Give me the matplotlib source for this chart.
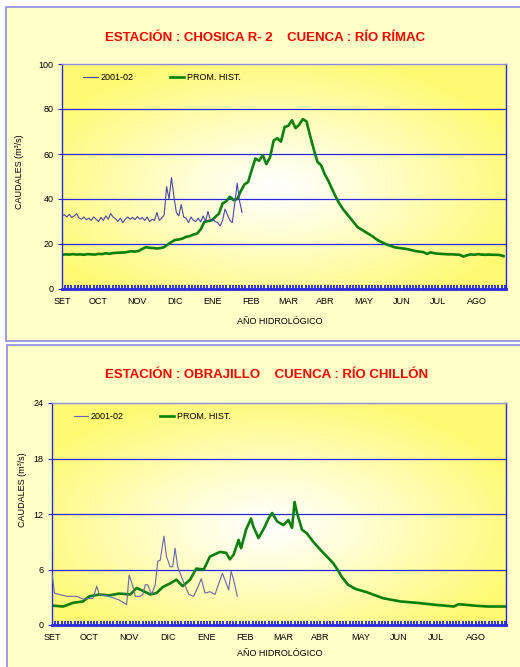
import numpy as np
import matplotlib.pyplot as plt
from matplotlib.patches import Rectangle

plt.rcParams['font.family'] = ['Liberation Sans', 'DejaVu Sans']

# Etiquetas de meses (año hidrológico, día 0 = 1 de setiembre)
meses = ['SET', 'OCT', 'NOV', 'DIC', 'ENE', 'FEB', 'MAR', 'ABR', 'MAY', 'JUN', 'JUL', 'AGO']
pos_meses = [0, 30, 62, 93, 124, 155, 186, 216, 248, 279, 309, 341]

# ---- Chosica R-2 (Río Rímac) ----
chosica_hist_dias = list(range(0, 364, 3))
chosica_hist = [15.2, 15.4, 15.3, 15.5, 15.3, 15.4, 15.2, 15.5, 15.4, 15.3,
                15.6, 15.5, 15.9, 15.6, 16.0, 16.1, 16.2, 16.2, 16.5, 16.8,
                16.6, 16.9, 17.8, 18.6, 18.3, 18.2, 18.0, 18.2, 18.6, 19.8,
                20.9, 21.8, 22.0, 22.4, 23.2, 23.5, 24.2, 24.6, 26.5, 29.8,
                30.2, 30.5, 32.0, 33.5, 38.0, 39.0, 41.0, 39.5, 40.0, 43.5,
                46.5, 47.5, 53.0, 58.0, 57.0, 59.5, 55.5, 58.5, 66.0, 67.0,
                65.5, 72.0, 72.5, 75.0, 71.5, 73.0, 75.5, 74.5, 68.0, 62.0,
                56.5, 55.0, 51.0, 48.0, 44.5, 41.0, 38.0, 35.5, 33.5, 31.5,
                29.5, 27.5, 26.5, 25.5, 24.5, 23.5, 22.3, 21.3, 20.5, 19.8,
                19.2, 18.6, 18.3, 18.1, 17.9, 17.6, 17.2, 16.8, 16.6, 16.4,
                15.6, 16.3, 15.9, 15.7, 15.6, 15.5, 15.4, 15.4, 15.3, 15.2,
                14.4, 15.0, 15.4, 15.2, 15.5, 15.3, 15.2, 15.3, 15.2, 15.2,
                15.1, 14.6]
chosica_0102_dias = list(range(0, 149, 2))
chosica_0102 = [32.5, 33.0, 32.0, 33.2, 31.8, 32.5, 33.5, 31.5, 31.0, 32.0,
                30.8, 31.5, 30.5, 32.0, 31.0, 30.0, 31.8, 30.5, 32.5, 31.0,
                33.5, 32.0, 31.2, 30.0, 31.5, 29.5, 31.0, 32.0, 31.0, 31.8,
                30.8, 32.2, 31.0, 31.8, 30.5, 32.0, 30.0, 31.0, 30.5, 34.0,
                30.5, 31.5, 33.0, 45.5, 40.0, 49.5, 41.0, 34.0, 32.5, 37.5,
                32.0, 31.5, 29.5, 32.0, 30.5, 30.0, 31.5, 29.8, 32.5, 30.0,
                34.5, 30.5, 31.0, 30.0, 29.5, 28.0, 30.5, 35.5, 33.0, 30.5,
                29.5, 38.0, 47.0, 39.0, 34.0]

# ---- Obrajillo (Río Chillón) ----
obra_hist_dias = [0, 9, 17, 25, 30, 38, 46, 54, 63, 68, 73, 79, 84, 89, 95,
                  100, 105, 111, 116, 122, 127, 135, 140, 143, 146, 150, 152,
                  156, 160, 162, 166, 169, 171, 174, 177, 181, 186, 190, 193,
                  195, 197, 201, 205, 210, 216, 221, 226, 229, 233, 238, 244,
                  253, 266, 280, 293, 307, 323, 327, 339, 350, 365]
obra_hist = [2.1, 2.0, 2.4, 2.55, 3.1, 3.3, 3.2, 3.4, 3.3, 4.0, 3.7, 3.3,
             3.45, 4.1, 4.5, 4.9, 4.2, 4.9, 6.1, 6.0, 7.4, 7.9, 7.8, 7.1,
             7.6, 9.2, 8.3, 10.3, 11.5, 10.6, 9.4, 10.1, 10.6, 11.5, 12.1,
             11.2, 10.8, 11.35, 10.5, 13.3, 12.1, 10.3, 9.9, 9.0, 8.1, 7.4,
             6.7, 6.1, 5.2, 4.35, 3.9, 3.55, 2.9, 2.55, 2.4, 2.2, 2.0, 2.25,
             2.1, 2.0, 2.0]
obra_0102_dias = [0, 2, 6, 12, 20, 25, 33, 36, 38, 46, 54, 60, 62, 65, 67, 71,
                  73, 75, 77, 80, 83, 85, 87, 90, 92, 95, 97, 99, 101, 105,
                  110, 114, 118, 120, 123, 127, 131, 137, 142, 144, 146, 149]
obra_0102 = [5.6, 3.45, 3.3, 3.1, 3.1, 2.8, 2.9, 4.2, 3.3, 3.1, 2.7, 2.2, 5.4,
             4.2, 3.1, 3.1, 3.3, 4.35, 4.35, 3.3, 4.35, 6.9, 7.0, 9.6, 7.4,
             6.3, 6.3, 8.3, 6.3, 4.9, 3.3, 3.1, 4.35, 5.0, 3.45, 3.6, 3.3,
             5.6, 3.8, 5.8, 4.9, 3.1]

W, H = 520, 667
fig = plt.figure(figsize=(W / 100, H / 100), dpi=100)
fig.patch.set_facecolor('white')

# fondos de los paneles (detrás de los ejes)
fig.patches.append(Rectangle((6 / W, 1 - 341 / H), 1, (341 - 7) / H, transform=fig.transFigure,
                             facecolor='#FFFFC8', edgecolor='#8C8CE6', linewidth=1.2, zorder=-10))
fig.patches.append(Rectangle((7 / W, -0.01), 1, 1 - 345 / H + 0.01, transform=fig.transFigure,
                             facecolor='#FFFFC8', edgecolor='#8C8CE6', linewidth=1.2, zorder=-10))

# degradado radial del área de trazado
gx, gy = np.meshgrid(np.linspace(0, 1, 300), np.linspace(0, 1, 300))
r = np.clip(np.sqrt(((gx - 0.48) / 0.58) ** 2 + ((gy - 0.45) / 0.6) ** 2), 0, 1) ** 1.1
amarillo = np.array([1.0, 0.98, 0.45])
grad = (1 - r[..., None]) * np.array([1, 1, 1]) + r[..., None] * amarillo


def panel(rect, titulo, tx, ty, xl, yl_x, yl_y, ymax, ystep, hd, hv, cd, cv, col_0102):
    ax = fig.add_axes(rect)
    ax.imshow(grad, extent=(0, 1, 0, 1), transform=ax.transAxes, origin='lower',
              aspect='auto', zorder=0)
    ax.set_xlim(0, 365)
    ax.set_ylim(0, ymax)
    ax.set_yticks(np.arange(0, ymax + 1, ystep))
    ax.set_xticks(pos_meses)
    ax.set_xticklabels(meses)
    for yv in np.arange(ystep, ymax, ystep):
        ax.axhline(yv, color='#2828E0', linewidth=0.9, zorder=1)
    l1, = ax.plot(cd, cv, color=col_0102, linewidth=0.8, zorder=3)
    l2, = ax.plot(hd, hv, color='#0A7F0A', linewidth=1.9, zorder=2)
    for s in ax.spines.values():
        s.set_color('#2828E0')
        s.set_linewidth(1.0)
    ax.spines['top'].set_color('#8C8CE6')
    ax.spines['bottom'].set_linewidth(2.0)
    ax.tick_params(axis='x', length=0, pad=6, labelsize=6.5)
    ax.tick_params(axis='y', length=3, width=0.8, color='#2828E0', labelsize=6.5, pad=3)
    ax.set_xticks(np.arange(0, 366, 2.6), minor=True)
    ax.tick_params(axis='x', which='minor', length=3, width=1.3, color='#2828E0',
                   direction='in')
    ax.legend([l1, l2], ['2001-02', 'PROM. HIST.'], ncol=2, frameon=False,
              loc='upper left', bbox_to_anchor=(0.04, 0.975), fontsize=6.5,
              handlelength=1.6, handletextpad=0.3, columnspacing=4.0, borderaxespad=0)
    fig.text(tx / W, 1 - ty / H, titulo, color='#FF0000', fontsize=9.5,
             fontweight='bold', ha='center', va='center')
    fig.text(280 / W, 1 - xl / H, 'AÑO HIDROLÓGICO', fontsize=6.5, ha='center', va='center')
    fig.text(yl_x / W, 1 - yl_y / H, 'CAUDALES (m³/s)', fontsize=6.5, rotation=90,
             ha='center', va='center')
    return ax


panel([62 / W, 1 - 289 / H, 444 / W, 225 / H],
      'ESTACIÓN : CHOSICA R- 2    CUENCA : RÍO RÍMAC', 265, 38, 321, 20, 172,
      100, 20, chosica_hist_dias, chosica_hist, chosica_0102_dias, chosica_0102, '#4848A8')
panel([52 / W, 1 - 625 / H, 454 / W, 222 / H],
      'ESTACIÓN : OBRAJILLO    CUENCA : RÍO CHILLÓN', 267, 375, 653, 23, 490,
      24, 6, obra_hist_dias, obra_hist, obra_0102_dias, obra_0102, '#6868B0')

plt.savefig('out.png', dpi=100)
